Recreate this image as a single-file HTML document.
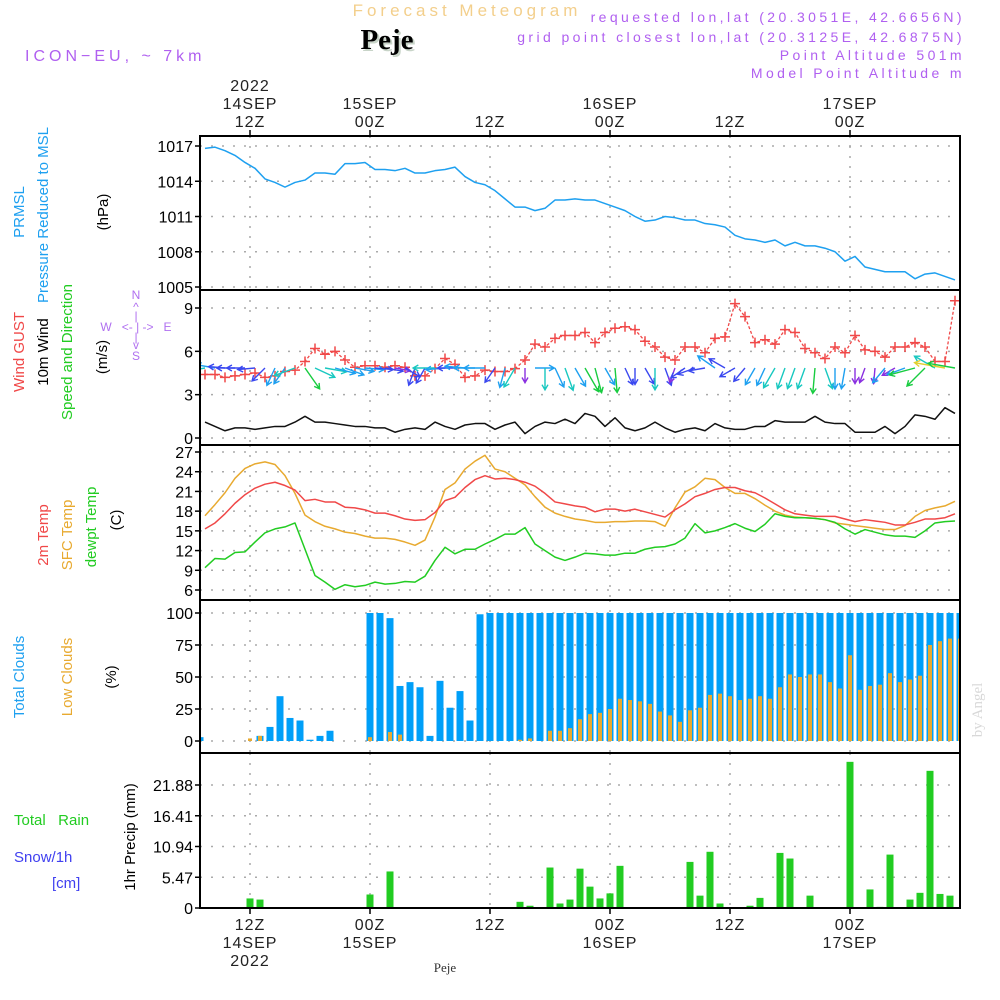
<!DOCTYPE html>
<html><head><meta charset="utf-8">
<style>
html,body{margin:0;padding:0;background:#fff;}
svg{display:block;font-family:"Liberation Sans",sans-serif;}
</style></head>
<body>
<svg id="chart" width="1000" height="1000" viewBox="0 0 1000 1000" xmlns="http://www.w3.org/2000/svg">
<rect width="1000" height="1000" fill="#fff"/>
<text x="467" y="16" font-size="17" fill="#f3cf8c" text-anchor="middle" letter-spacing="4">Forecast Meteogram</text>
<text x="389" y="51" font-family="Liberation Serif,serif" font-weight="bold" font-size="29" fill="#c8d4c8" text-anchor="middle">Peje</text>
<text x="387" y="49" font-family="Liberation Serif,serif" font-weight="bold" font-size="29" fill="#000" text-anchor="middle">Peje</text>
<text x="25" y="61" font-size="16" fill="#b060f0" letter-spacing="4">ICON−EU, ~ 7km</text>
<g font-size="14" fill="#b060f0" text-anchor="end" letter-spacing="3.4">
<text x="965" y="22">requested lon,lat (20.3051E, 42.6656N)</text>
<text x="965" y="42">grid point closest lon,lat (20.3125E, 42.6875N)</text>
<text x="965" y="60">Point Altitude 501m</text>
<text x="965" y="78">Model Point Altitude m</text>
</g>
<g id="g"></g>
<text x="445" y="972" font-family="Liberation Serif,serif" font-size="13" fill="#333" text-anchor="middle">Peje</text>
<text transform="translate(982,710) rotate(-90)" font-family="Liberation Serif,serif" font-size="15" fill="#d8d8d8" text-anchor="middle">by Angel</text>
</svg>
<script>
const pressure=[1016.8,1016.9,1016.6,1016.2,1015.6,1015.1,1014.2,1013.9,1013.5,1013.9,
1014.1,1014.7,1014.7,1014.6,1015.5,1015.5,1015.6,1015.0,1015.0,1014.9,
1015.1,1014.7,1014.7,1014.9,1015.0,1015.2,1014.4,1013.9,1013.7,1013.2,
1012.5,1011.8,1011.8,1011.5,1011.7,1012.4,1012.4,1012.5,1012.4,1012.4,
1012.1,1011.8,1011.5,1011.0,1010.6,1010.7,1011.0,1010.9,1010.7,1010.7,
1010.4,1010.3,1010.1,1009.4,1009.1,1009.0,1008.8,1009.0,1008.5,1008.8,
1008.5,1008.5,1008.3,1008.0,1007.2,1007.6,1006.7,1006.5,1006.3,1006.3,
1006.3,1005.7,1006.1,1006.2,1005.9,1005.6];
const windGust=[4.4,4.4,4.2,4.3,4.4,4.5,4.2,4.3,4.6,4.7,
5.3,6.2,5.8,6.0,5.4,4.9,5.0,5.0,4.9,5.0,
4.9,4.3,4.3,4.8,5.5,5.1,4.2,4.3,4.7,4.6,
4.6,4.8,5.4,6.5,6.3,6.9,7.1,7.1,7.3,
6.6,7.3,7.6,7.7,7.5,6.7,6.3,5.6,5.4,6.3,6.3,5.9,6.9,7.0,9.3,8.4,6.6,6.8,6.5,7.5,7.3,6.2,5.9,5.5,6.3,5.9,7.1,6.1,6.0,5.6,6.3,6.3,6.6,6.3,5.3,5.3,9.5];
const windSpeed=[1.1,0.8,0.5,0.7,0.7,0.6,0.7,0.8,0.8,1.1,
1.5,1.1,1.1,1.0,0.9,0.8,0.8,0.7,0.7,0.4,
0.6,0.7,0.6,1.1,0.8,0.6,0.9,1.0,1.0,0.6,
0.9,1.1,0.3,0.8,1.1,1.0,1.3,1.0,1.7,1.5,
0.8,1.4,0.7,0.5,0.7,1.1,0.7,0.4,0.6,0.7,
0.5,1.0,0.7,0.6,0.6,0.8,0.8,1.2,1.1,1.1,
1.1,1.5,1.1,1.0,1.0,0.4,0.4,0.4,0.8,0.3,
0.8,1.6,1.5,1.3,2.1,1.7];
const windDir=[260,280,275,270,270,265,225,205,215,250,
145,115,100,105,110,100,95,95,100,100,
120,200,210,270,265,270,275,270,270,215,
195,210,180,90,180,155,160,150,150,165,
150,175,155,180,150,180,160,200,235,250,
260,305,300,240,220,210,205,210,200,200,
200,185,160,180,190,180,200,185,220,240,
250,255,225,300,280,280];
const temp2m=[15.3,16.2,17.6,19.2,20.5,21.5,22.1,22.4,21.9,21.2,
19.6,19.8,19.4,19.4,18.6,18.5,18.2,17.7,17.7,17.3,
16.8,16.6,16.7,17.8,19.6,20.1,21.6,22.8,23.4,22.9,
23.0,22.8,22.4,21.8,20.7,19.4,19.1,18.8,18.6,17.9,
18.3,18.3,18.0,18.3,17.9,17.5,17.1,18.2,19.1,20.2,20.7,21.3,21.6,21.6,21.1,20.8,20.0,19.1,18.2,17.6,17.4,17.2,17.2,17.2,16.8,16.4,16.7,16.5,16.3,15.9,15.9,16.3,16.8,16.8,17.0,17.6];
const tempSfc=[17.3,19.0,20.8,23.0,24.5,25.2,25.5,25.1,23.4,20.7,
17.4,16.4,15.7,15.3,14.8,14.6,14.2,13.9,13.9,13.7,
13.3,12.8,13.6,17.1,21.3,22.3,24.4,25.6,26.5,24.4,
24.0,23.0,22.0,20.2,18.6,17.7,17.2,16.8,16.6,16.3,
16.3,16.4,16.4,16.5,16.5,16.4,15.7,18.5,20.9,21.7,23.0,22.8,21.6,20.7,20.7,19.9,18.9,18.0,17.4,17.1,17.0,16.9,16.7,16.2,16.0,15.8,15.6,15.4,15.2,15.2,15.8,17.2,18.1,18.5,18.8,19.5];
const tempDew=[9.4,10.8,10.7,11.7,11.8,13.3,14.7,15.3,15.6,16.2,
12.2,8.2,7.2,6.1,6.8,6.5,6.7,7.2,6.9,7.0,
7.3,7.2,8.1,10.5,12.5,11.5,12.2,12.2,13.0,13.7,
14.5,14.5,15.5,13.0,12.0,11.0,10.5,11.0,11.6,11.5,
11.3,11.3,11.6,11.6,12.2,12.5,12.6,13.0,13.9,16.1,14.7,15.0,15.5,16.1,15.4,14.9,16.0,17.6,17.2,17.0,17.0,16.9,16.7,16.3,15.3,14.5,15.2,14.8,14.4,14.2,14.2,14.0,15.0,16.2,16.4,16.5];
const totalCloud=[3,0,0,0,0,0,4,11,35,18,16,1,4,8,0,0,0,100,100,96,43,46,42,4,47,26,39,16,99,100,
100,100,100,100,100,100,100,100,100,100,100,100,100,100,100,100,100,100,100,100,
100,100,100,100,100,100,100,100,100,100,100,100,100,100,100,100,100,100,100,100,100,100,100,100,100,100,100];
const lowCloud=[0,0,0,0,0,2,4,0,0,0,0,0,0,0,0,0,0,3,0,7,5,0,0,0,0,0,0,0,0,0,
0,0,1,2,0,8,8,10,17,21,22,25,33,32,31,29,23,20,15,24,26,36,37,35,32,33,35,33,42,52,
50,52,52,46,41,67,40,43,44,53,46,48,51,75,78,80,80];
const precip=[0,0,0,0,0,1.7,1.5,0,0,0,0,0,0,0,0,0,0,2.4,0,6.5,0,0,0,0,0,0,0,0,0,0,
0,0,1.1,0.4,0,7.2,0.8,1.5,7.0,3.8,1.7,2.6,7.5,0,0,0,0,0,0,8.2,2.2,10.0,0.8,0,0,0.4,1.8,0,9.8,8.8,
0,2.2,0,0,0,26.0,0,3.3,0.2,9.5,0,1.5,2.7,24.4,2.5,2.2,0];
const pressTicks=[1017,1014,1011,1008,1005];
const windTicks=[9,6,3,0];
const tempTicks=[27,24,21,18,15,12,9,6];
const cloudTicks=[100,75,50,25,0];
const precipTicks=[21.88,16.41,10.94,5.47,0];
const timeTicks=[{h:5,top:['2022','14SEP','12Z'],bot:['12Z','14SEP','2022']},{h:17,top:['15SEP','00Z'],bot:['00Z','15SEP']},{h:29,top:['12Z'],bot:['12Z']},{h:41,top:['16SEP','00Z'],bot:['00Z','16SEP']},{h:53,top:['12Z'],bot:['12Z']},{h:65,top:['17SEP','00Z'],bot:['00Z','17SEP']}];

const X0=200,X1=960;
const xh=h=>X0+10*h;
const xl=i=>X0+5+10*i;
const lin=(d0,d1,r0,r1)=>v=>r0+(v-d0)*(r1-r0)/(d1-d0);
const yP=lin(1017,1005,146,287), yW=lin(9,0,308,438), yT=lin(27,6,452,590), yC=lin(100,0,613,741), yR=lin(21.88,0,785,908);
const panels=[{t:136,b:290,ticks:pressTicks,y:yP,n:'pressure'},{t:290,b:445,ticks:windTicks,y:yW,n:'wind'},{t:445,b:600,ticks:tempTicks,y:yT,n:'temperature'},{t:600,b:753,ticks:cloudTicks,y:yC,n:'clouds'},{t:753,b:908,ticks:precipTicks,y:yR,n:'precip'}];

const NS='http://www.w3.org/2000/svg';
const G=document.getElementById('g');
function mk(tag,attrs,parent){const e=document.createElementNS(NS,tag);for(const k in attrs)e.setAttribute(k,attrs[k]);(parent||G).appendChild(e);return e;}
function txt(s,attrs,parent){const e=mk('text',attrs,parent);e.textContent=s;return e;}

const defs=mk('defs',{});
const cp=mk('clipPath',{id:'clip'},defs);mk('rect',{x:X0,y:136,width:X1-X0,height:772},cp);

panels.forEach(p=>{
  const gg=mk('g',{});
  
  
  p.ticks.forEach(v=>{
    const y=p.y(v);
    const l=mk('line',{x1:X0,x2:X1,y1:y,y2:y,stroke:'#aaa','stroke-width':1.5,'stroke-dasharray':'2,9'},gg);
    
    
    mk('line',{x1:X0-5,x2:X0,y1:y,y2:y,stroke:'#000','stroke-width':1.5},gg);
    const t=txt(String(v),{x:X0-7,y:y+6,'font-size':16,'text-anchor':'end',fill:'#000'},gg);
    
    
  });
  timeTicks.forEach(tt=>{
    const x=xh(tt.h);
    mk('line',{x1:x,x2:x,y1:p.t,y2:p.b,stroke:'#aaa','stroke-width':1.5,'stroke-dasharray':'2,8'},gg);
  });
});

timeTicks.forEach(tt=>{
  const x=xh(tt.h);
  mk('line',{x1:x,x2:x,y1:130,y2:136,stroke:'#000','stroke-width':1.5});
  mk('line',{x1:x,x2:x,y1:908,y2:914,stroke:'#000','stroke-width':1.5});
  tt.top.forEach((s,k)=>{
    const y=127-(tt.top.length-1-k)*18;
    const t=txt(s,{x:x,y:y,'font-size':16,'text-anchor':'middle',fill:'#222','letter-spacing':1});
    
    
  });
  tt.bot.forEach((s,k)=>{
    const t=txt(s,{x:x,y:930+k*18,'font-size':16,'text-anchor':'middle',fill:'#222','letter-spacing':1});
    
    
  });
});

const plot=mk('g',{'clip-path':'url(#clip)'});
function line(arr,y,color,name,w){
  const pts=arr.map((v,i)=>xl(i)+','+y(v)).join(' ');
  const e=mk('polyline',{points:pts,fill:'none',stroke:color,'stroke-width':w||1.5,'stroke-linejoin':'round'},plot);
  
  
  return e;
}
line(pressure,yP,'#1ea0f0','pressure-line');
line(windSpeed,yW,'#111','wind-speed-line');
const gl=line(windGust,yW,'#f04848','wind-gust-line',1.3);gl.setAttribute('stroke-dasharray','3,2');
windGust.forEach((v,i)=>{
  const x=xl(i),y=yW(v);
  const m=mk('path',{d:`M${x-5},${y}H${x+5}M${x},${y-5}V${y+5}`,stroke:'#f04848','stroke-width':1.5},plot);
  
  
});
function wcol(s){return s<0.5?'#8a30e0':s<0.75?'#3a48f0':s<1.05?'#1ea0f0':s<1.4?'#18c8c0':s<1.9?'#18cc40':'#e0d030';}
windDir.forEach((d,i)=>{
  const s=windSpeed[i], L=12+s*9, a=d*Math.PI/180;
  const x0=xl(i), y0=368, x1=x0+L*Math.sin(a), y1=y0-L*Math.cos(a);
  const hx=Math.sin(a), hy=-Math.cos(a);
  const h1x=x1-6*(hx*0.87-hy*0.5), h1y=y1-6*(hy*0.87+hx*0.5);
  const h2x=x1-6*(hx*0.87+hy*0.5), h2y=y1-6*(hy*0.87-hx*0.5);
  const ar=mk('path',{d:`M${x0},${y0}L${x1},${y1}M${h1x},${h1y}L${x1},${y1}L${h2x},${h2y}`,stroke:wcol(s),'stroke-width':1.4,fill:'none'},plot);
  
  
});
line(tempSfc,yT,'#e8aa30','sfc-temp-line');
line(temp2m,yT,'#f04848','temp-2m-line');
line(tempDew,yT,'#22cc22','dewpoint-line');
totalCloud.forEach((v,i)=>{
  if(v<=0)return;
  const r=mk('rect',{x:xh(i)-3.5,y:yC(v),width:7,height:yC(0)-yC(v),fill:'#009ff8'},plot);
  
  
});
lowCloud.forEach((v,i)=>{
  if(v<=0)return;
  const r=mk('rect',{x:xh(i)-2,y:yC(v),width:4,height:yC(0)-yC(v),fill:'#e8aa30'},plot);
  
  
});
precip.forEach((v,i)=>{
  if(v<=0)return;
  const r=mk('rect',{x:xh(i)-3.5,y:yR(v),width:7,height:yR(0)-yR(v),fill:'#22cc22'},plot);
  
  
});

panels.forEach(p=>{
  const f=mk('rect',{x:X0,y:p.t,width:X1-X0,height:p.b-p.t,fill:'none',stroke:'#000','stroke-width':2});
  
  
});

function vt(s,x,yc,color,name,size){
  const t=txt(s,{transform:`translate(${x},${yc}) rotate(-90)`,'font-size':size||15,'text-anchor':'middle',fill:color});
  
  
}
vt('PRMSL',24,212,'#1ea0f0','pressure-title');
vt('Pressure Reduced to MSL',48,215,'#1ea0f0','pressure-subtitle');
vt('(hPa)',108,212,'#000','pressure-unit');
vt('Wind GUST',24,352,'#f04848','gust-title');
vt('10m Wind',48,352,'#000','wind-title');
vt('Speed and Direction',72,352,'#22cc22','wind-direction-title');
vt('(m/s)',107,357,'#000','wind-unit');
vt('2m Temp',48,535,'#f04848','temp-2m-title');
vt('SFC Temp',72,535,'#e8aa30','sfc-temp-title');
vt('dewpt Temp',96,527,'#22cc22','dewpoint-title');
vt('(C)',121,520,'#000','temp-unit');
vt('Total Clouds',24,677,'#1ea0f0','total-clouds-title');
vt('Low Clouds',72,677,'#e8aa30','low-clouds-title');
vt('(%)',116,677,'#000','cloud-unit');
vt('1hr Precip (mm)',135,837,'#000','precip-title');
const lab=[['Total   Rain',14,825,'#22cc22'],['Snow/1h',14,862,'#4040f0'],['[cm]',52,888,'#4040f0']];
lab.forEach(l=>{const t=txt(l[0],{x:l[1],y:l[2],'font-size':15,fill:l[3]});t.style.whiteSpace='pre';});
const cg=mk('g',{'font-size':12,fill:'#b070f0','text-anchor':'middle'});


[['N',136,299],['^',136,311],['|',136,320],['W   <- | ->   E',136,331],['|',136,341],['v',136,349],['S',136,360]].forEach(c=>{const t=txt(c[0],{x:c[1],y:c[2]},cg);t.style.whiteSpace='pre';});
</script>
</body></html>
